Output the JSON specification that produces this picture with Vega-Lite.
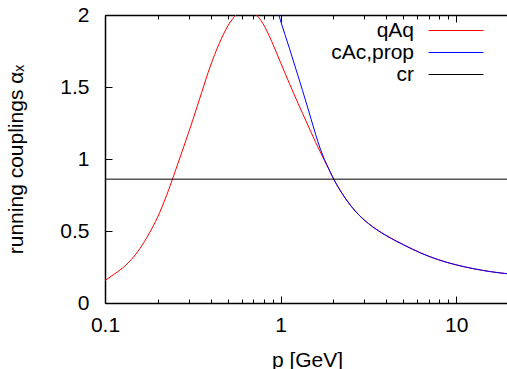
{
  "$schema": "https://vega.github.io/schema/vega-lite/v6.json",
  "width": 404,
  "height": 288,
  "autosize": {"type": "none"},
  "padding": {"left": 105, "top": 15, "right": 0, "bottom": 66},
  "config": {
    "view": {"stroke": null},
    "font": "Liberation Sans",
    "axis": {"domainColor": "black", "domainWidth": 1.5, "tickColor": "black", "labelColor": "black", "titleColor": "black", "labelFontSize": 21, "titleFontSize": 21, "titleFontWeight": "normal", "grid": false}
  },
  "data": {
    "values": [
      {"p": 0.1, "v": 0.156, "s": "qAq"},
      {"p": 0.1122, "v": 0.198, "s": "qAq"},
      {"p": 0.1259, "v": 0.243, "s": "qAq"},
      {"p": 0.1413, "v": 0.302, "s": "qAq"},
      {"p": 0.1585, "v": 0.38, "s": "qAq"},
      {"p": 0.1778, "v": 0.48, "s": "qAq"},
      {"p": 0.1995, "v": 0.597, "s": "qAq"},
      {"p": 0.2239, "v": 0.745, "s": "qAq"},
      {"p": 0.2512, "v": 0.915, "s": "qAq"},
      {"p": 0.2818, "v": 1.09, "s": "qAq"},
      {"p": 0.3162, "v": 1.27, "s": "qAq"},
      {"p": 0.3548, "v": 1.46, "s": "qAq"},
      {"p": 0.3981, "v": 1.645, "s": "qAq"},
      {"p": 0.4467, "v": 1.8, "s": "qAq"},
      {"p": 0.5012, "v": 1.925, "s": "qAq"},
      {"p": 0.5623, "v": 2.005, "s": "qAq"},
      {"p": 0.631, "v": 2.045, "s": "qAq"},
      {"p": 0.7079, "v": 2.015, "s": "qAq"},
      {"p": 0.7943, "v": 1.94, "s": "qAq"},
      {"p": 0.8913, "v": 1.815, "s": "qAq"},
      {"p": 1.0, "v": 1.67, "s": "qAq"},
      {"p": 1.122, "v": 1.525, "s": "qAq"},
      {"p": 1.259, "v": 1.385, "s": "qAq"},
      {"p": 1.413, "v": 1.25, "s": "qAq"},
      {"p": 1.585, "v": 1.115, "s": "qAq"},
      {"p": 1.679, "v": 1.052, "s": "qAq"},
      {"p": 1.778, "v": 0.99, "s": "qAq"},
      {"p": 1.884, "v": 0.928, "s": "qAq"},
      {"p": 1.995, "v": 0.866, "s": "qAq"},
      {"p": 2.239, "v": 0.762, "s": "qAq"},
      {"p": 2.512, "v": 0.676, "s": "qAq"},
      {"p": 2.818, "v": 0.607, "s": "qAq"},
      {"p": 3.162, "v": 0.553, "s": "qAq"},
      {"p": 3.981, "v": 0.47, "s": "qAq"},
      {"p": 5.012, "v": 0.405, "s": "qAq"},
      {"p": 6.31, "v": 0.347, "s": "qAq"},
      {"p": 7.943, "v": 0.3, "s": "qAq"},
      {"p": 10.0, "v": 0.265, "s": "qAq"},
      {"p": 12.59, "v": 0.238, "s": "qAq"},
      {"p": 15.85, "v": 0.217, "s": "qAq"},
      {"p": 20.0, "v": 0.202, "s": "qAq"},
      {"p": 0.8913, "v": 2.17, "s": "cAc,prop"},
      {"p": 1.0, "v": 1.96, "s": "cAc,prop"},
      {"p": 1.122, "v": 1.77, "s": "cAc,prop"},
      {"p": 1.259, "v": 1.575, "s": "cAc,prop"},
      {"p": 1.413, "v": 1.375, "s": "cAc,prop"},
      {"p": 1.585, "v": 1.17, "s": "cAc,prop"},
      {"p": 1.679, "v": 1.075, "s": "cAc,prop"},
      {"p": 1.778, "v": 0.997, "s": "cAc,prop"},
      {"p": 1.884, "v": 0.93, "s": "cAc,prop"},
      {"p": 1.995, "v": 0.867, "s": "cAc,prop"},
      {"p": 2.239, "v": 0.761, "s": "cAc,prop"},
      {"p": 2.512, "v": 0.675, "s": "cAc,prop"},
      {"p": 2.818, "v": 0.606, "s": "cAc,prop"},
      {"p": 3.162, "v": 0.552, "s": "cAc,prop"},
      {"p": 3.981, "v": 0.469, "s": "cAc,prop"},
      {"p": 5.012, "v": 0.404, "s": "cAc,prop"},
      {"p": 6.31, "v": 0.346, "s": "cAc,prop"},
      {"p": 7.943, "v": 0.3, "s": "cAc,prop"},
      {"p": 10.0, "v": 0.265, "s": "cAc,prop"},
      {"p": 12.59, "v": 0.238, "s": "cAc,prop"},
      {"p": 15.85, "v": 0.217, "s": "cAc,prop"},
      {"p": 20.0, "v": 0.202, "s": "cAc,prop"},
      {"p": 0.1, "v": 0.86, "s": "cr"},
      {"p": 20, "v": 0.86, "s": "cr"}
    ]
  },
  "resolve": {"axis": {"x": "independent"}},
  "layer": [
    {
      "transform": [{"filter": "datum.s != 'cr'"}],
      "mark": {"type": "line", "clip": true, "strokeWidth": 1, "interpolate": "monotone"},
      "encoding": {
        "x": {"field": "p", "type": "quantitative",
          "scale": {"type": "log", "domain": [0.1, 20], "nice": false},
          "axis": {"orient": "bottom", "title": "p [GeV]", "titlePadding": 11,
            "values": [0.1, 0.2, 0.3, 0.4, 0.5, 0.6, 0.7, 0.8, 0.9, 1, 2, 3, 4, 5, 6, 7, 8, 9, 10, 20],
            "labelExpr": "datum.value == 0.1 ? '0.1' : datum.value == 1 ? '1' : datum.value == 10 ? '10' : ''",
            "tickSize": {"condition": {"test": "datum.value == 0.1 || datum.value == 1 || datum.value == 10", "value": -7}, "value": -4},
            "labelPadding": 18, "labelFlush": false, "labelOverlap": false}},
        "y": {"field": "v", "type": "quantitative",
          "scale": {"domain": [0, 2], "nice": false},
          "axis": {"title": "running couplings αₓ", "values": [0, 0.5, 1, 1.5, 2], "format": "~g", "tickSize": -7, "labelPadding": 23, "titlePadding": 33, "labelFlush": false}},
        "color": {"field": "s", "type": "nominal",
          "scale": {"domain": ["qAq", "cAc,prop", "cr"], "range": ["#ff0000", "#0000ff", "#000000"]},
          "legend": {"title": null, "orient": "none", "legendX": 340.5, "legendY": 5,
            "symbolType": "M-5,0H5", "symbolSize": 121, "symbolStrokeWidth": 1, "symbolFillColor": "transparent",
            "labelAlign": "right", "labelOffset": -52.5, "labelFontSize": 21, "labelColor": "black",
            "rowPadding": 0, "padding": 0}}
      }
    },
    {
      "transform": [{"filter": "datum.s == 'cr'"}],
      "mark": {"type": "line", "clip": true, "strokeWidth": 1},
      "encoding": {
        "x": {"field": "p", "type": "quantitative",
          "axis": {"orient": "top", "title": null, "labels": false,
            "values": [0.1, 0.2, 0.3, 0.4, 0.5, 0.6, 0.7, 0.8, 0.9, 1, 2, 3, 4, 5, 6, 7, 8, 9, 10, 20],
            "tickSize": {"condition": {"test": "datum.value == 0.1 || datum.value == 1 || datum.value == 10", "value": -7}, "value": -4}}},
        "y": {"field": "v", "type": "quantitative"},
        "color": {"field": "s", "type": "nominal"}
      }
    }
  ]
}
